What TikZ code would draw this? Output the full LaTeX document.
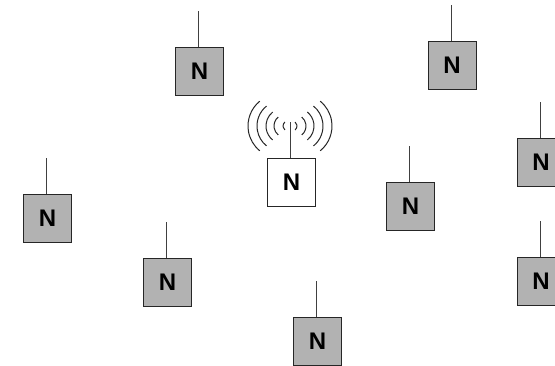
\documentclass[tikz,border=0pt]{standalone}
\usepackage{fontspec}
\setmainfont{Liberation Sans}
\begin{document}
\begin{tikzpicture}[x=1pt,y=1pt,
  nbox/.style={draw=black!85, line width=0.9pt, minimum size=48pt, inner sep=0pt,
    font=\fontsize{24}{24}\selectfont\bfseries, fill=gray!60},
  wbox/.style={nbox, fill=white},
  ant/.style={draw=black!75, line width=0.9pt},
  wave/.style={draw=black!85, line width=1pt}]
\useasboundingbox (0,0) rectangle (555,366);
\node[nbox] (n1) at (199.5,294.5) {N};
\node[nbox] (n2) at (452,301) {N};
\node[wbox] (n3) at (291.5,183.5) {N};
\node[nbox] (n4) at (541,203.5) {N};
\node[nbox] (n5) at (410.5,160) {N};
\node[nbox] (n6) at (47.5,148) {N};
\node[nbox] (n7) at (167.5,84) {N};
\node[nbox] (n8) at (317.5,25) {N};
\node[nbox] (n9) at (541,85) {N};
\foreach \i in {1,...,9}{
  \path (n\i.north) ++(-1pt,36pt) coordinate (a\i);
  \draw[ant] (n\i.north -| a\i) -- (a\i);
}
\coordinate (wc) at (290,240);
\foreach \d/\h in {42/25,33/20,24/14,16/9,7/4}{
  \pgfmathsetmacro{\r}{1.28*\h}
  \draw[wave] (wc) ++(-\d pt,0pt) ++(\r pt,0pt) ++(129:\r pt) arc[start angle=129, end angle=231, radius=\r pt];
  \draw[wave] (wc) ++(\d pt,0pt) ++(-\r pt,0pt) ++(-51:\r pt) arc[start angle=-51, end angle=51, radius=\r pt];
}
\end{tikzpicture}
\end{document}
